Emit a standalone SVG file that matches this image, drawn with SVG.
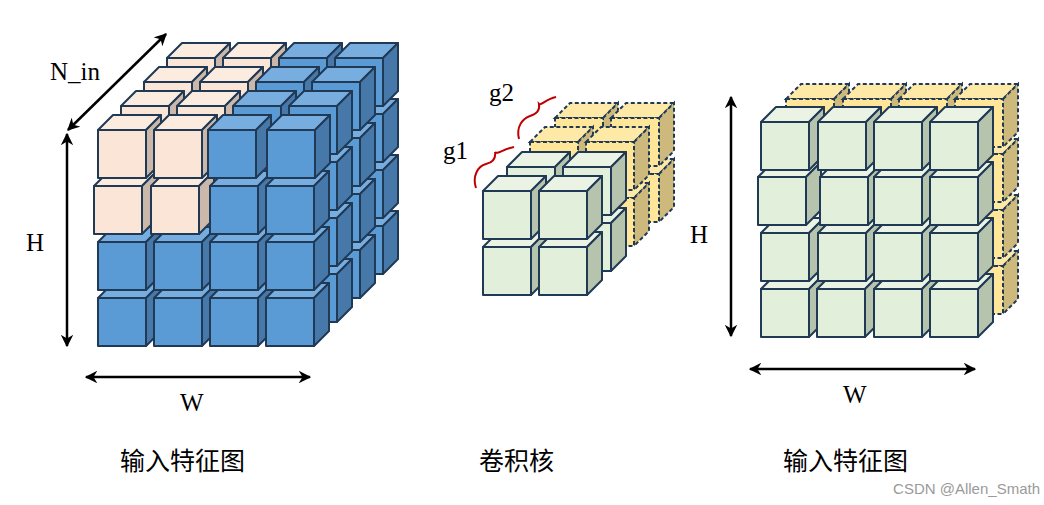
<svg xmlns="http://www.w3.org/2000/svg" xmlns:xlink="http://www.w3.org/1999/xlink" width="1044" height="505" viewBox="0 0 1044 505">
<style>
.s{stroke:#203A56;stroke-width:2;stroke-linejoin:round}
.d{stroke:#203A56;stroke-width:2;stroke-dasharray:4 2.5}
.lbl{font-family:"Liberation Serif",serif;font-size:25px;fill:#000}
.cn{font-family:"Noto Sans CJK SC",sans-serif;font-size:25px;fill:#000}
.ar{stroke:#000;stroke-width:2.5;fill:none;marker-start:url(#ah);marker-end:url(#ah)}
</style>
<defs>
<marker id="ah" viewBox="0 0 10 10" refX="9" refY="5" markerWidth="5" markerHeight="5" orient="auto-start-reverse" markerUnits="strokeWidth"><path d="M0,0L10,5L0,10L3,5z" fill="#000"/></marker>
<g id="cb" class="s"><polygon points="0,0 15,-15 63,-15 48,0" fill="#78ADDF"/><polygon points="48,0 63,-15 63,33 48,48" fill="#4679AA"/><rect width="48" height="48" fill="#5B9BD5"/></g>
<g id="cp" class="s"><polygon points="0,0 15,-15 63,-15 48,0" fill="#FCEBDF"/><polygon points="48,0 63,-15 63,33 48,48" fill="#CBB8AA"/><rect width="48" height="48" fill="#FBE5D6"/></g>
<g id="cg" class="s"><polygon points="0,0 15,-15 63,-15 48,0" fill="#EAF3E4"/><polygon points="48,0 63,-15 63,33 48,48" fill="#B6C3AD"/><rect width="48" height="48" fill="#E2EFDA"/></g>
<g id="cy" class="d"><polygon points="0,0 15,-15 63,-15 48,0" fill="#FFE9A6"/><polygon points="48,0 63,-15 63,33 48,48" fill="#CDB97B"/><rect width="48" height="48" fill="#FFE699"/></g>
</defs>
<g id="input1">
<!-- layer 4 -->
<g transform="translate(69,-72)">
<use xlink:href="#cb" x="210" y="298"/><use xlink:href="#cb" x="266" y="298"/><use xlink:href="#cb" x="210" y="242"/><use xlink:href="#cb" x="266" y="242"/><use xlink:href="#cb" x="210" y="186"/><use xlink:href="#cb" x="266" y="186"/><use xlink:href="#cp" x="98" y="130"/><use xlink:href="#cp" x="154" y="130"/><use xlink:href="#cb" x="210" y="130"/><use xlink:href="#cb" x="266" y="130"/>
</g>
<g transform="translate(46,-48)">
<use xlink:href="#cb" x="210" y="298"/><use xlink:href="#cb" x="266" y="298"/><use xlink:href="#cb" x="210" y="242"/><use xlink:href="#cb" x="266" y="242"/><use xlink:href="#cb" x="210" y="186"/><use xlink:href="#cb" x="266" y="186"/><use xlink:href="#cp" x="98" y="130"/><use xlink:href="#cp" x="154" y="130"/><use xlink:href="#cb" x="210" y="130"/><use xlink:href="#cb" x="266" y="130"/>
</g>
<g transform="translate(23,-24)">
<use xlink:href="#cb" x="210" y="298"/><use xlink:href="#cb" x="266" y="298"/><use xlink:href="#cb" x="210" y="242"/><use xlink:href="#cb" x="266" y="242"/><use xlink:href="#cb" x="210" y="186"/><use xlink:href="#cb" x="266" y="186"/><use xlink:href="#cp" x="98" y="130"/><use xlink:href="#cp" x="154" y="130"/><use xlink:href="#cb" x="210" y="130"/><use xlink:href="#cb" x="266" y="130"/>
</g>
<g>
<use xlink:href="#cb" x="98" y="298"/><use xlink:href="#cb" x="154" y="298"/><use xlink:href="#cb" x="210" y="298"/><use xlink:href="#cb" x="266" y="298"/>
<use xlink:href="#cb" x="98" y="242"/><use xlink:href="#cb" x="154" y="242"/><use xlink:href="#cb" x="210" y="242"/><use xlink:href="#cb" x="266" y="242"/>
<use xlink:href="#cp" x="94" y="186"/><use xlink:href="#cp" x="151" y="186"/><use xlink:href="#cb" x="210" y="186"/><use xlink:href="#cb" x="266" y="186"/>
<use xlink:href="#cp" x="98" y="130"/><use xlink:href="#cp" x="154" y="130"/><use xlink:href="#cb" x="208" y="130"/><use xlink:href="#cb" x="267" y="130"/>
</g>
</g>
<g id="kernel">
<g transform="translate(72,-73)"><use xlink:href="#cy" x="483" y="247"/><use xlink:href="#cy" x="539" y="247"/><use xlink:href="#cy" x="483" y="191"/><use xlink:href="#cy" x="539" y="191"/></g>
<g transform="translate(47,-49)"><use xlink:href="#cy" x="483" y="247"/><use xlink:href="#cy" x="539" y="247"/><use xlink:href="#cy" x="483" y="191"/><use xlink:href="#cy" x="539" y="191"/></g>
<g transform="translate(24,-24)"><use xlink:href="#cg" x="483" y="247"/><use xlink:href="#cg" x="539" y="247"/><use xlink:href="#cg" x="483" y="191"/><use xlink:href="#cg" x="539" y="191"/></g>
<g><use xlink:href="#cg" x="483" y="247"/><use xlink:href="#cg" x="539" y="247"/><use xlink:href="#cg" x="483" y="191"/><use xlink:href="#cg" x="539" y="191"/></g>
</g>
<g id="output">
<g transform="translate(25,-23)">
<use xlink:href="#cy" x="930" y="289"/><use xlink:href="#cy" x="930" y="233"/><use xlink:href="#cy" x="930" y="177"/>
<use xlink:href="#cy" x="761" y="122"/><use xlink:href="#cy" x="818" y="122"/><use xlink:href="#cy" x="874" y="122"/><use xlink:href="#cy" x="930" y="122"/>
</g>
<use xlink:href="#cg" x="761" y="289"/><use xlink:href="#cg" x="817" y="289"/><use xlink:href="#cg" x="874" y="289"/><use xlink:href="#cg" x="930" y="289"/>
<use xlink:href="#cg" x="761" y="233"/><use xlink:href="#cg" x="818" y="233"/><use xlink:href="#cg" x="874" y="233"/><use xlink:href="#cg" x="930" y="233"/>
<use xlink:href="#cg" x="758" y="177"/><use xlink:href="#cg" x="820" y="177"/><use xlink:href="#cg" x="874" y="177"/><use xlink:href="#cg" x="930" y="177"/>
<use xlink:href="#cg" x="761" y="122"/><use xlink:href="#cg" x="818" y="122"/><use xlink:href="#cg" x="874" y="122"/><use xlink:href="#cg" x="930" y="122"/>
</g>
<g id="connectors">
<path class="ar" d="M68,130L166,34"/>
<path class="ar" d="M67,134V346"/>
<path class="ar" d="M86,377H310"/>
<path class="ar" d="M731,97V336"/>
<path class="ar" d="M750,369H975"/>
<path d="M476,188C472,176 478,166 486,164C494,162 496,158 495,152C497,155 503,149 514,147" fill="none" stroke="#C00000" stroke-width="2"/>
<path d="M519,139C516,127 522,119 530,116C537,114 540,110 539,104C541,106 546,99 556,97" fill="none" stroke="#C00000" stroke-width="2"/>
</g>
<g id="labels">
<text class="lbl" x="50" y="80">N_in</text>
<text class="lbl" x="26" y="251">H</text>
<text class="lbl" x="180" y="411">W</text>
<text class="lbl" x="489" y="101">g2</text>
<text class="lbl" x="443" y="159">g1</text>
<text class="lbl" x="690" y="243">H</text>
<text class="lbl" x="843" y="403">W</text>
<text class="cn" x="120" y="470">输入特征图</text>
<text class="cn" x="479" y="470">卷积核</text>
<text class="cn" x="783" y="470">输入特征图</text>
<text x="1040" y="494" text-anchor="end" font-family="Liberation Sans,sans-serif" font-size="15" fill="#9A9A9A">CSDN @Allen_Smath</text>
</g>
</svg>
